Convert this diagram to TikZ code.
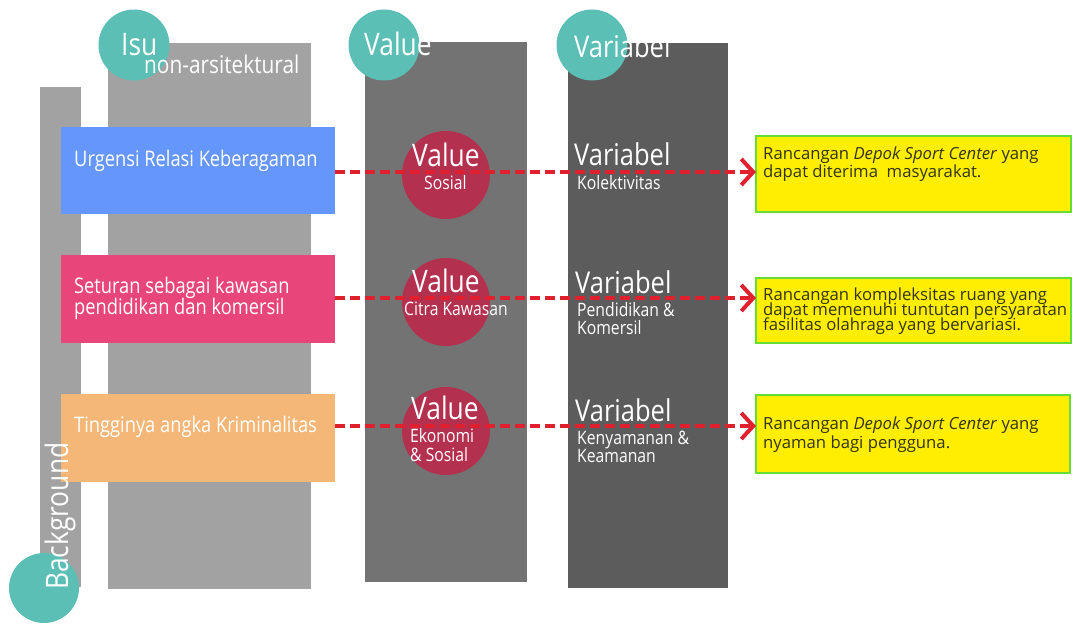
\documentclass[tikz,border=0pt]{standalone}
\usepackage{fontspec}
\setmainfont{Open Sans}
\newfontfamily\cond{Open Sans}[FakeStretch=0.85]
\usetikzlibrary{arrows.meta,calc}
\definecolor{teal}{HTML}{5BBFB6}
\definecolor{crim}{HTML}{B3304F}
\definecolor{colA}{HTML}{A2A2A2}
\definecolor{colB}{HTML}{737373}
\definecolor{colC}{HTML}{5D5C5D}
\definecolor{bl}{HTML}{6596FB}
\definecolor{pk}{HTML}{E8457B}
\definecolor{og}{HTML}{F5B777}
\definecolor{yl}{HTML}{FFEE00}
\definecolor{gr}{HTML}{66DD33}
\definecolor{dk}{HTML}{33331A}
\definecolor{rd}{HTML}{E0202E}
\newcommand{\fs}[1]{\cond\fontsize{#1}{#1}\selectfont}
\newcommand{\fy}[1]{\fontsize{#1}{#1}\selectfont}
\tikzset{
  blk/.style={inner sep=0pt, outer sep=0pt, draw=none, anchor=north west, rectangle},
  dot/.style={circle, inner sep=0pt, outer sep=0pt, draw=none},
  wt/.style={text=white, inner sep=0pt, anchor=base west},
  ybox/.style={blk, fill=yl, draw=gr, line width=1.5pt},
  yt/.style={text=dk, inner sep=0pt, anchor=base west, font=\fy{16.7}},
  conn/.style={draw=rd, line width=4pt, dash pattern=on 10pt off 5pt,
    -{Straight Barb[length=12pt, width=26pt, line width=4pt]}},
}
\begin{document}
\begin{tikzpicture}[x=1pt,y=-1pt]
\useasboundingbox (0,0) rectangle (1073,624);
% columns
\node[blk, fill=colA, minimum width=41pt, minimum height=500pt] (bgbar) at (40,87) {};
\node[blk, fill=colA, minimum width=203pt, minimum height=546pt] (isucol) at (108,43) {};
\node[blk, fill=colB, minimum width=162pt, minimum height=540pt] (valcol) at (365,42) {};
\node[blk, fill=colC, minimum width=160pt, minimum height=545pt] (varcol) at (568,43) {};
% teal circles
\node[dot, fill=teal, minimum size=71pt] (cisu) at (134,45) {};
\node[dot, fill=teal, minimum size=71pt] (cval) at (384,45) {};
\node[dot, fill=teal, minimum size=71pt] (cvar) at (592,45) {};
\node[dot, fill=teal, minimum size=70pt] (cbg) at (44,588) {};
% titles
\node[wt, font=\fs{31}] (tisu) at (121,55) {Isu};
\node[wt, font=\fs{24.5}] (tnon) at (144,73) {non-arsitektural};
\node[wt, font=\fs{31}] (tval) at (364,55) {Value};
\node[wt, font=\fs{30}] (tvar) at (574,57) {Variabel};
% issue boxes
\node[blk, fill=bl, minimum width=274pt, minimum height=87pt] (b1) at (61,127) {};
\node[blk, fill=pk, minimum width=274pt, minimum height=88pt] (b2) at (61,255) {};
\node[blk, fill=og, minimum width=274pt, minimum height=88pt] (b3) at (61,394) {};
\node[wt, font=\fs{21.5}] (tb1) at (74,166) {Urgensi Relasi Keberagaman};
\node[wt, font=\fs{21.5}] (tb2a) at (74,293) {Seturan sebagai kawasan};
\node[wt, font=\fs{21.5}] (tb2b) at (74,314) {pendidikan dan komersil};
\node[wt, font=\fs{21.5}] (tb3) at (74,432) {Tingginya angka Kriminalitas};
% background label
\node[wt, font=\fs{31}, rotate=90] (tbg) at (68,590) {Background};
% red circles
\node[dot, fill=crim, minimum size=88pt] (r1) at (446,175) {};
\node[dot, fill=crim, minimum size=88pt] (r2) at (446,302) {};
\node[dot, fill=crim, minimum size=88pt] (r3) at (446,431) {};
\node[wt, font=\fs{31}] (v1) at (412,166) {Value};
\node[wt, font=\fs{18.5}] (v1s) at (424,189) {Sosial};
\node[wt, font=\fs{31}] (v2) at (412,292) {Value};
\node[wt, font=\fs{18.5}] (v2s) at (404,315) {Citra Kawasan};
\node[wt, font=\fs{31}] (v3) at (411,419) {Value};
\node[wt, font=\fs{18.5}] (v3s) at (410,442) {Ekonomi};
\node[wt, font=\fs{18.5}] (v3t) at (410,461) {\& Sosial};
% variabel texts
\node[wt, font=\fs{30}] (w1) at (574,165) {Variabel};
\node[wt, font=\fs{18.5}] (w1s) at (577,189) {Kolektivitas};
\node[wt, font=\fs{30}] (w2) at (575,293) {Variabel};
\node[wt, font=\fs{18.5}] (w2s) at (577,316) {Pendidikan \&};
\node[wt, font=\fs{18.5}] (w2t) at (577,334) {Komersil};
\node[wt, font=\fs{30}] (w3) at (575,421) {Variabel};
\node[wt, font=\fs{18.5}] (w3s) at (577,444) {Kenyamanan \&};
\node[wt, font=\fs{18.5}] (w3t) at (577,462) {Keamanan};
% yellow boxes
\node[ybox, minimum width=315pt, minimum height=76pt] (y1) at (756,136) {};
\node[ybox, minimum width=315pt, minimum height=65pt] (y2) at (756,278) {};
\node[ybox, minimum width=314pt, minimum height=78pt] (y3) at (756,395) {};
\node[yt] (ty1a) at (763,159) {Rancangan \textit{Depok Sport Center} yang};
\node[yt] (ty1b) at (763,177) {dapat diterima\ \ masyarakat.};
\node[yt] (ty2a) at (763,300) {Rancangan kompleksitas ruang yang};
\node[yt] (ty2b) at (763,315) {dapat memenuhi tuntutan persyaratan};
\node[yt] (ty2c) at (763,330) {fasilitas olahraga yang bervariasi.};
\node[yt] (ty3a) at (763,429) {Rancangan \textit{Depok Sport Center} yang};
\node[yt] (ty3b) at (763,448) {nyaman bagi pengguna.};
% connectors
\coordinate (s1) at ($(b1.north east)!0.5!(b1.south east)+(0,1.5)$);
\coordinate (s2) at ($(b2.north east)!0.5!(b2.south east)+(0,-1)$);
\coordinate (s3) at ($(b3.north east)+(0,32)$);
\draw[conn] (s1) -- (s1 -| y1.west);
\draw[conn] (s2) -- (s2 -| y2.west);
\draw[conn] (s3) -- (s3 -| y3.west);
\end{tikzpicture}
\end{document}
